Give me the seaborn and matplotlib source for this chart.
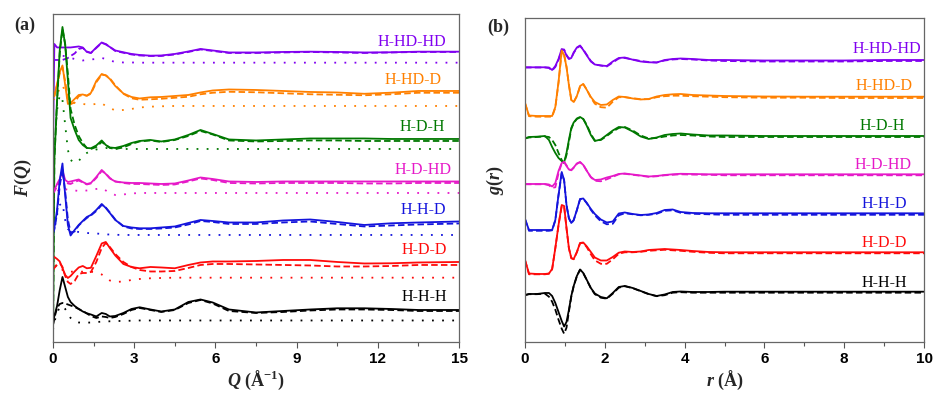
"""Stacked F(Q) and g(r) curves for seven H/D substitutions, panels (a) and (b)."""

import matplotlib
matplotlib.use("Agg")
import matplotlib.pyplot as plt
from matplotlib.ticker import MultipleLocator
import pandas as pd
import seaborn as sns

SERIES = ["H-HD-HD", "H-HD-D", "H-D-H", "H-D-HD", "H-H-D", "H-D-D", "H-H-H"]
COLORS = ["#8000F0", "#FF8000", "#007800", "#E619C8", "#1414DC", "#FF0A0A", "#000000"]

# ---- panel (a): F(Q), values relative to each curve's own baseline ----
Q_GRID = [0, 0.05, 0.15, 0.25, 0.35, 0.45, 0.55, 0.65, 0.8, 0.95,
          1.1, 1.25, 1.4, 1.6, 1.8, 1.95, 2.1, 2.3, 2.6, 2.9,
          3.2, 3.6, 4.0, 4.5, 5.0, 5.45, 5.9, 6.5, 7.5, 8.5,
          9.5, 10.5, 11.5, 12.5, 13.5, 15.0]

fq_solid_hhdhd = [-95, 8, 4.5, 4.5, 4.5, 4.5, 4.5, 4.5, 5, 5.5, 4.5, 0, -1, 4.5, 9.5, 7.5, 5, 1.5, -0.3, -2,
                  -3, -3.7, -3.5, -2, 0.5, 3, 1.5, -0.5, -0.5, 0, 0.3, 0, -0.5, -0.3, 0.3, 0.3]
fq_dash_hhdhd = [-8, -8, -8, -8, -8, -7, -6, -4, -1.5, 3, 4, 0.5, -1, 4, 9, 8, 5, 1, -0.8, -2.5,
                 -3.5, -4, -4, -2.5, 0, 2.5, 1, -1, -1, -0.5, 0, -0.5, -1, -0.5, 0, 0]
fq_dot_hhdhd = [-6, -6, -6, -5, -4, -4, -5, -6, -7, -8, -8.5, -8, -7.5, -7, -6, -7, -8.5, -10, -10.5, -10.5,
                -10.7, -10.7, -10.7, -10.7, -10.7, -10.7, -10.7, -10.7, -10.7, -10.7, -10.7, -10.7,
                -10.7, -10.7, -10.7, -10.7]

fq_solid_hhdd = [-5.7, -4.7, 7.3, 19.3, 25.8, 6.3, -12.7, -11.7, -7.7, -3.7, -3.2, -4.4, -1.7, 10.3, 17.3,
                 15.8, 12.3, 5.3, -2.2, -5.7, -7.2, -6, -5.7, -4.7, -3.7, -1.2, 0.8, 1.8, 1.3, 0.3,
                 -0.7, -1.2, -2.5, -1.4, 0.3, 0.3]
fq_dash_hhdd = [-5.7, -4.7, 6, 18, 24, 10, -8, -13, -11, -5, -3.5, -4.5, -2.5, 9, 16.5, 16, 13, 6, -2.5, -7,
                -8.5, -8, -7.5, -6.5, -5.5, -3, -1.5, -0.5, -1, -2, -3, -3.5, -4, -3, -1.5, -1.5]
fq_dot_hhdd = [-8.7, -7.7, -3.7, 3.3, 6.3, -0.7, -8.7, -11, -11.7, -12, -12.7, -13.2, -13.2, -12.7, -12,
               -14.7, -16.7, -19.2, -18.7, -17.7, -16.2, -15.4, -15, -14.7, -14.7, -14.7, -14.7, -14.7,
               -14.7, -14.7, -14.7, -14.7, -14.7, -14.7, -14.7, -14.7]

fq_solid_hdh = [-201, -21, 39, 89, 112, 94, 59, 21, 9, -1, -6, -9, -9.3, -6.5, -1.5, -6, -8.5, -9, -7, -4,
                -2, -1, -2.5, -0.5, 4, 9, 5, -0.5, -1.5, -0.5, 0.5, 0.5, 0.5, 0, 0, 0]
fq_dash_hdh = [-201, -21, 37, 86, 110, 95, 65, 30, 14, 3, -4, -9, -10, -8, -3, -6, -9, -10, -8.5, -5,
               -2.5, -1.5, -3, -1, 3, 8, 4.5, -1.5, -2.5, -2, -1.5, -1.5, -2, -2, -2, -2]
fq_dot_hdh = [-61, -11, 29, 44, 39, 14, -11, -21, -24, -22, -17, -14, -12, -10.5, -9.5, -9, -9.5, -9.5,
              -10, -10, -10, -10, -10, -10, -10, -10, -10, -10, -10, -10, -10, -10, -10, -10, -10, -10]

fq_solid_hdhd = [-10.5, -8.5, -2.5, 2.5, 11, 1.5, -0.5, 0, 1, 2, -0.5, -2.5, -1.5, 4.5, 11.5, 7.5, 3, 0,
                 -1, -1.5, -1.5, -2, -2.5, -2, 1, 4, 2.5, 0, -0.5, 0, 0, 0, 0, 0, 0, 0]
fq_dash_hdhd = [-12, -10, -5, 0, 6, 1, -2, -2.5, -0.5, 1, -1, -3, -2, 3.5, 10.5, 8, 3.5, 0, -1.5, -2.5,
                -2.5, -3, -3.5, -3, 0, 3, 1.5, -1.5, -2, -1.5, -1.5, -1.5, -2, -2, -1.5, -1.5]
fq_dot_hdhd = [-18.5, -14.5, -10, -7.5, -5.5, -7.5, -8.5, -8.5, -9, -9.5, -9.5, -9, -8.5, -7.5, -6.8, -9,
               -11.5, -13.5, -13, -12, -11.5, -11.5, -11.5, -11.5, -11.5, -11.5, -11.5, -11.5, -11.5,
               -11.5, -11.5, -11.5, -11.5, -11.5, -11.5, -11.5]

fq_solid_hhd = [-10.5, -6.5, 11.5, 41.5, 58, 26.5, -3.5, -14, -8.5, -3.5, 0.5, 4.5, 6.5, 11.5, 17.5, 13.5,
                8.5, 1.5, -4.5, -6, -6.8, -6.8, -6, -5, -1.5, 1.5, 0.5, -1, -1, 1, 2, -0.5, -3.5, -1.8,
                -1, 0]
fq_dash_hhd = [-12, -8, 8, 36, 52, 30, 2, -11, -10, -4, 0, 3.5, 6, 10.5, 16.5, 14, 9, 2, -5, -7,
               -7.5, -7.5, -7, -6, -3, 0.5, -0.5, -2.5, -2.5, -1, 0, -2.5, -5, -4, -3, -2]
fq_dot_hhd = [-13.5, -8.5, 6.5, 16.5, 18.5, 1.5, -7.5, -9.5, -10, -10.5, -11, -11.5, -11.8, -12, -12.5,
              -13, -13, -13.3, -13.5, -13.5, -13.5, -13.5, -13.5, -13.5, -13.5, -13.5, -13.5, -13.5,
              -13.5, -13.5, -13.5, -13.5, -13.5, -13.5, -13.5, -13.5]

fq_solid_hdd = [4, 5, 3, 0.5, -6, -13, -16, -14, -9.5, -5.5, -4, -6.3, -5.8, 6, 18.5, 20, 14, 6.5, -2, -5,
                -6.3, -5, -5.5, -6.3, -3, -0.5, 0.5, 0.5, 1, 2, 2, 0, -1.5, -1.3, -0.5, 0]
fq_dash_hdd = [-8, -6, -3, -1, -5, -14, -20, -22, -19, -12, -11, -11, -10, 0, 14, 19, 15, 8, 0, -5,
               -8, -9.5, -9.5, -9, -6, -3, -2, -2, -2.5, -3, -3.5, -4.5, -4.5, -4, -3, -3]
fq_dot_hdd = [-14, -6, -2, -4, -8, -10, -10, -9.7, -9.7, -9.7, -9.7, -9.7, -9.7, -10.5, -12.5, -15.5,
              -18.5, -20, -19.5, -18, -17, -16.3, -16, -15.7, -15.7, -15.7, -15.7, -15.7, -15.7, -15.7,
              -15.7, -15.7, -15.7, -15.7, -15.7, -15.7]

fq_solid_hhh = [-15, -6, 4, 20, 33, 23, 13, 8, 4, 1, -1.5, -3.3, -4.5, -6.5, -3, -4, -6.5, -6, -3, 1,
                2.7, 0.5, -1.5, 0.5, 8, 10.5, 7.5, 0.5, -2.5, -1, 0.5, 1.7, 1.7, 1, 0, 0]
fq_dash_hhh = [-15, -8, 2, 6, 7, 6.5, 5.5, 4.5, 3, 1, -1, -3.5, -6, -8, -6.5, -7, -8, -7, -4, 0,
               2, 0, -2, 0, 7, 10, 6.5, -1, -3, -2, -0.5, 0.5, 0.5, 0, -1, -1]
fq_dot_hhh = [-20, -12, -3, 3, 4, 1, -3, -8, -11.5, -12.5, -12.7, -12.7, -12.5, -12, -11.7, -11.5, -11.3,
              -11, -11, -10.7, -10.5, -10.5, -10.5, -10.5, -10.5, -10.5, -10.5, -10.5, -10.5, -10.5,
              -10.5, -10.5, -10.5, -10.5, -10.5, -10.5]

# ---- panel (b): g(r) ----
R_GRID = [0, 0.1, 0.3, 0.5, 0.6, 0.68, 0.76, 0.84, 0.92, 0.98,
          1.04, 1.1, 1.16, 1.22, 1.3, 1.38, 1.46, 1.55, 1.65, 1.75,
          1.9, 2.05, 2.2, 2.35, 2.5, 2.7, 2.9, 3.1, 3.3, 3.5,
          3.7, 3.9, 4.2, 4.6, 5, 6, 7, 8, 9, 10]

gr_solid_hhdhd = [-7.3, -7.3, -7.3, -7.3, -7.5, -10, -6, 1, 11, 10, 4.5, 1, 2, 7.5, 12.5, 14.5, 10, 4.5,
                  -1.5, -4.5, -5.5, -6, -1.5, 2, 2.5, 0.3, -1.5, -2.3, -2.5, 0, 1, 1.5, 1, 0, 0, -0.5,
                  -0.5, -0.5, 0, 0]
gr_dash_hhdhd = [-7.5, -7.5, -7.5, -7.5, -8, -10.5, -7, 0, 10, 10.5, 5, 1.5, 2, 7, 12, 14, 10.5, 5, -1,
                 -4.5, -5.5, -6.5, -2.5, 1.5, 2, 0.5, -1, -2, -2.5, -0.5, 0.5, 1, 0.5, -0.5, -1, -1.5,
                 -1.5, -1.5, -1, -1]

gr_solid_hhdd = [-6.3, -18.8, -19.3, -19.3, -19.3, -19.3, -10.3, 14.7, 46.2, 41.7, 29.7, 11.7, -3.3, -5.3,
                 0.7, 10.7, 12.7, 6.7, -0.3, -5.3, -8.3, -7.8, -3.3, 0.2, -0.3, -1.8, -2.8, -2.3, 0.2,
                 1.7, 2.4, 2.7, 1.7, 1.2, 0.7, 0.2, 0, 0, 0, 0]
gr_dash_hhdd = [-6.3, -19.5, -20, -20, -20, -20, -11, 14, 45, 42, 30, 12, -3, -5.5, 0.5, 10, 12.5, 7, -1,
                -7, -10.5, -11, -5, -0.5, -0.5, -1.5, -2.5, -2.5, -0.5, 0.5, 1, 1, 0.5, 0, -0.5, -1,
                -1, -1.3, -1.3, -1.3]

gr_solid_hdh = [-2.3, -1, -0.7, 0, -4, -11, -17, -22, -25, -26.5, -17, -4, 8, 13.5, 17.5, 19, 17, 10, 1,
                -5, -3.5, 1, 5.5, 9, 8.5, 4.5, -0.5, -3, -1.5, 1, 2, 2.5, 1.5, 0.5, 0.5, 0, 0, 0, 0, 0]
gr_dash_hdh = [-2.5, -1.5, -1, -0.5, -1, -4, -9, -17, -24, -27, -19, -6, 7, 13, 17, 18.5, 17, 11, 2,
               -4.5, -4, 0, 4.5, 8, 9, 5.5, 0.5, -2.5, -2, -0.5, 0.5, 1, 0.5, -0.5, -1, -1, -1, -1,
               -1, -1]

gr_solid_hdhd = [-9.7, -9.7, -9.7, -9.7, -10.2, -12.2, -8.7, 3.3, 11.3, 12.3, 8.3, 4.8, 4.3, 6.8, 10.8,
                 12.3, 9.3, 3.3, -2.7, -5.7, -5.2, -3.2, -1.7, 0.3, 0.8, -0.2, -1.2, -2.2, -1.7, -0.7,
                 0, 0.5, 0.3, 0, 0, 0, 0, 0, 0, 0]
gr_dash_hdhd = [-10, -10, -10, -10, -11, -13.5, -13, 1, 11, 12.5, 9, 5, 4, 6.5, 10.5, 12, 9.5, 3.5, -3,
                -6.5, -7, -5, -2.5, 0, 0.5, -0.5, -1.5, -2.5, -2, -1, -0.5, 0, -0.3, -0.5, -1, -1, -1,
                -1, -1, -1]

gr_solid_hhd = [-5.7, -16.7, -16.7, -16.7, -16.7, -16.7, -6.7, 18.3, 41.3, 33.3, 8.3, -4.7, -9.7, -6.7,
                3.3, 14.3, 14.8, 10.3, 4.3, -0.7, -6.2, -9.2, -8.2, -0.2, 0.8, -0.7, -1.7, -1.2, 0.3,
                3.3, 3.8, 1.3, 0.3, 0, 0, 0, 0, 0, 0, 0]
gr_dash_hhd = [-5.7, -17.5, -17.5, -17.5, -17.5, -17, -7, 18, 40, 33, 8, -5, -10, -7, 3, 14, 14.5, 10,
               3.5, -2, -8, -11, -10.5, -2, 0, -1, -2, -1.5, -0.5, 2.5, 3, 0.5, -0.5, -1, -1.5, -1.5,
               -1.5, -1.5, -1.5, -1.5]

gr_solid_hdd = [-7.7, -21.2, -21.7, -21.7, -21.2, -16.7, 4.3, 27.3, 47.3, 46.3, 24.3, 4.3, -5.7, -6.7,
                0.3, 9.3, 9.8, 5.8, 0.3, -5.2, -8.2, -8.2, -4.7, -0.4, 0.8, 0.3, 0.8, 2.3, 2.8, 3.3,
                2.8, 2.3, 1.3, 0.3, 0, 0, 0, 0, 0, 0]
gr_dash_hdd = [-7.7, -22, -22, -22, -21.5, -17, 4, 27, 46, 46, 24, 4, -6, -7, 0, 9, 9.5, 5, -2, -8,
               -11.5, -11.5, -7, -1.5, 0, 0, 0.5, 1.5, 2, 2.5, 2, 1.5, 0.5, -0.5, -1, -1, -1, -1,
               -1, -1]

gr_solid_hhh = [-3.3, -2.3, -2.3, -1.3, -1.3, -4.3, -11.3, -20.3, -29.3, -34.8, -30.3, -18.3, -4.3, 5.7,
                15.7, 22.2, 18.7, 11.7, 3.7, -1.8, -5.3, -6.6, -1.3, 4.7, 5.7, 3.7, 0.7, -2.3, -4.3,
                -2.8, -0.3, 0.2, -0.3, -0.3, 0, 0, 0, 0, 0, 0]
gr_dash_hhh = [-3.5, -2.5, -2.5, -2, -5, -10, -18, -28, -37, -42, -36, -20, -5, 5.5, 15.5, 22, 18.5,
               11.5, 3.5, -2.5, -6, -7, -2, 4, 5.5, 3.5, 0.5, -2.5, -4.5, -3.5, -1, -0.5, -1, -1, -1,
               -1, -1, -1, -1, -1]

# vertical stacking (baseline of each curve) and label placement
A_OFFSETS = [290, 250.7, 203, 160.5, 120.5, 80, 32]
B_OFFSETS = [282, 245.3, 206, 167.7, 128.7, 89.7, 50.3]
A_LABEL_X = [14.54, 14.36, 14.48, 14.73, 14.54, 14.54, 14.57]
A_LABEL_DY = [10.3, 11.3, 12.3, 11.5, 11.5, 12, 13.3]
B_LABEL_X = [9.92, 9.72, 9.52, 9.69, 9.57, 9.57, 9.57]
B_LABEL_DY = [10.7, 10.7, 10, 9.3, 9.3, 9, 8.4]

FQ = {
    "solid": [fq_solid_hhdhd, fq_solid_hhdd, fq_solid_hdh, fq_solid_hdhd, fq_solid_hhd, fq_solid_hdd, fq_solid_hhh],
    "dashed": [fq_dash_hhdhd, fq_dash_hhdd, fq_dash_hdh, fq_dash_hdhd, fq_dash_hhd, fq_dash_hdd, fq_dash_hhh],
    "dotted": [fq_dot_hhdhd, fq_dot_hhdd, fq_dot_hdh, fq_dot_hdhd, fq_dot_hhd, fq_dot_hdd, fq_dot_hhh],
}
GR = {
    "solid": [gr_solid_hhdhd, gr_solid_hhdd, gr_solid_hdh, gr_solid_hdhd, gr_solid_hhd, gr_solid_hdd, gr_solid_hhh],
    "dashed": [gr_dash_hhdhd, gr_dash_hhdd, gr_dash_hdh, gr_dash_hdhd, gr_dash_hhd, gr_dash_hdd, gr_dash_hhh],
}


def long_frame(grid, curves, offsets):
    rows = []
    for kind, arrays in curves.items():
        for name, vals, off in zip(SERIES, arrays, offsets):
            for x, v in zip(grid, vals):
                rows.append({"x": x, "y": v + off, "series": name, "kind": kind})
    return pd.DataFrame(rows)


sns.set_theme(style="ticks")
plt.rcParams.update({
    "font.family": ["Liberation Serif", "DejaVu Serif"],
    "mathtext.fontset": "custom",
    "mathtext.it": "Liberation Serif:italic:bold",
    "mathtext.rm": "Liberation Serif:bold",
    "mathtext.bf": "Liberation Serif:bold",
})

PALETTE = dict(zip(SERIES, COLORS))
DASHES = {"solid": "", "dashed": (3.6, 1.8), "dotted": (1, 4.6)}


def style_axis(ax, xmax, major, minor, ytop):
    ax.set_xlim(0, xmax)
    ax.set_ylim(0, ytop)
    ax.set_yticks([])
    ax.xaxis.set_major_locator(MultipleLocator(major))
    ax.xaxis.set_minor_locator(MultipleLocator(minor))
    ax.tick_params(axis="x", which="major", direction="out", length=4, width=0.8,
                   colors="#555555", labelcolor="black")
    ax.tick_params(axis="x", which="minor", direction="out", length=3, width=0.8, colors="#555555")
    for sp in ax.spines.values():
        sp.set_visible(True)
        sp.set_color("#666666")
        sp.set_linewidth(0.9)
    if ax.get_legend() is not None:
        ax.get_legend().remove()


fig = plt.figure(figsize=(9.33, 3.99), dpi=100)
ax_a = fig.add_axes([0.0568, 0.1429, 0.4352, 0.8221])
ax_b = fig.add_axes([0.5627, 0.1429, 0.4277, 0.8120])

df_a = long_frame(Q_GRID, FQ, A_OFFSETS)
sns.lineplot(data=df_a, x="x", y="y", hue="series", style="kind", palette=PALETTE,
             dashes=DASHES, estimator=None, sort=False, linewidth=1.3, ax=ax_a)
style_axis(ax_a, 15, 3, 1.5, 328)
ax_a.set_xticks([0, 3, 6, 9, 12, 15])
ax_a.set_xticklabels(["0", "3", "6", "9", "12", "15"], fontfamily="Liberation Sans",
                     fontweight="bold", fontsize=11)
ax_a.set_xlabel(r"$Q$ (Å$^{-1}$)", fontsize=13, fontweight="bold", labelpad=2)
ax_a.set_ylabel(r"$F(Q)$", fontsize=13, labelpad=14)
for name, col, off, lx, dy in zip(SERIES, COLORS, A_OFFSETS, A_LABEL_X, A_LABEL_DY):
    ax_a.text(lx, off + dy, name, color=col, ha="right", va="center", fontsize=11.5)

df_b = long_frame(R_GRID, GR, B_OFFSETS)
sns.lineplot(data=df_b, x="x", y="y", hue="series", style="kind", palette=PALETTE,
             dashes=DASHES, estimator=None, sort=False, linewidth=1.3, ax=ax_b)
style_axis(ax_b, 10, 2, 1, 324)
ax_b.set_xticks([0, 2, 4, 6, 8, 10])
ax_b.set_xticklabels(["0", "2", "4", "6", "8", "10"], fontfamily="Liberation Sans",
                     fontweight="bold", fontsize=11)
ax_b.set_xlabel(r"$r$ (Å)", fontsize=13, fontweight="bold", labelpad=2)
ax_b.set_ylabel(r"$g(r)$", fontsize=13, labelpad=14)
for name, col, off, lx, dy in zip(SERIES, COLORS, B_OFFSETS, B_LABEL_X, B_LABEL_DY):
    ax_b.text(lx, off + dy, name, color=col, ha="right", va="center", fontsize=11.5)

fig.text(25 / 933, 1 - 25 / 399, "(a)", fontsize=13, fontweight="bold", ha="center", va="center")
fig.text(498 / 933, 1 - 27 / 399, "(b)", fontsize=13, fontweight="bold", ha="center", va="center")

fig.savefig("out.png", dpi=100)
